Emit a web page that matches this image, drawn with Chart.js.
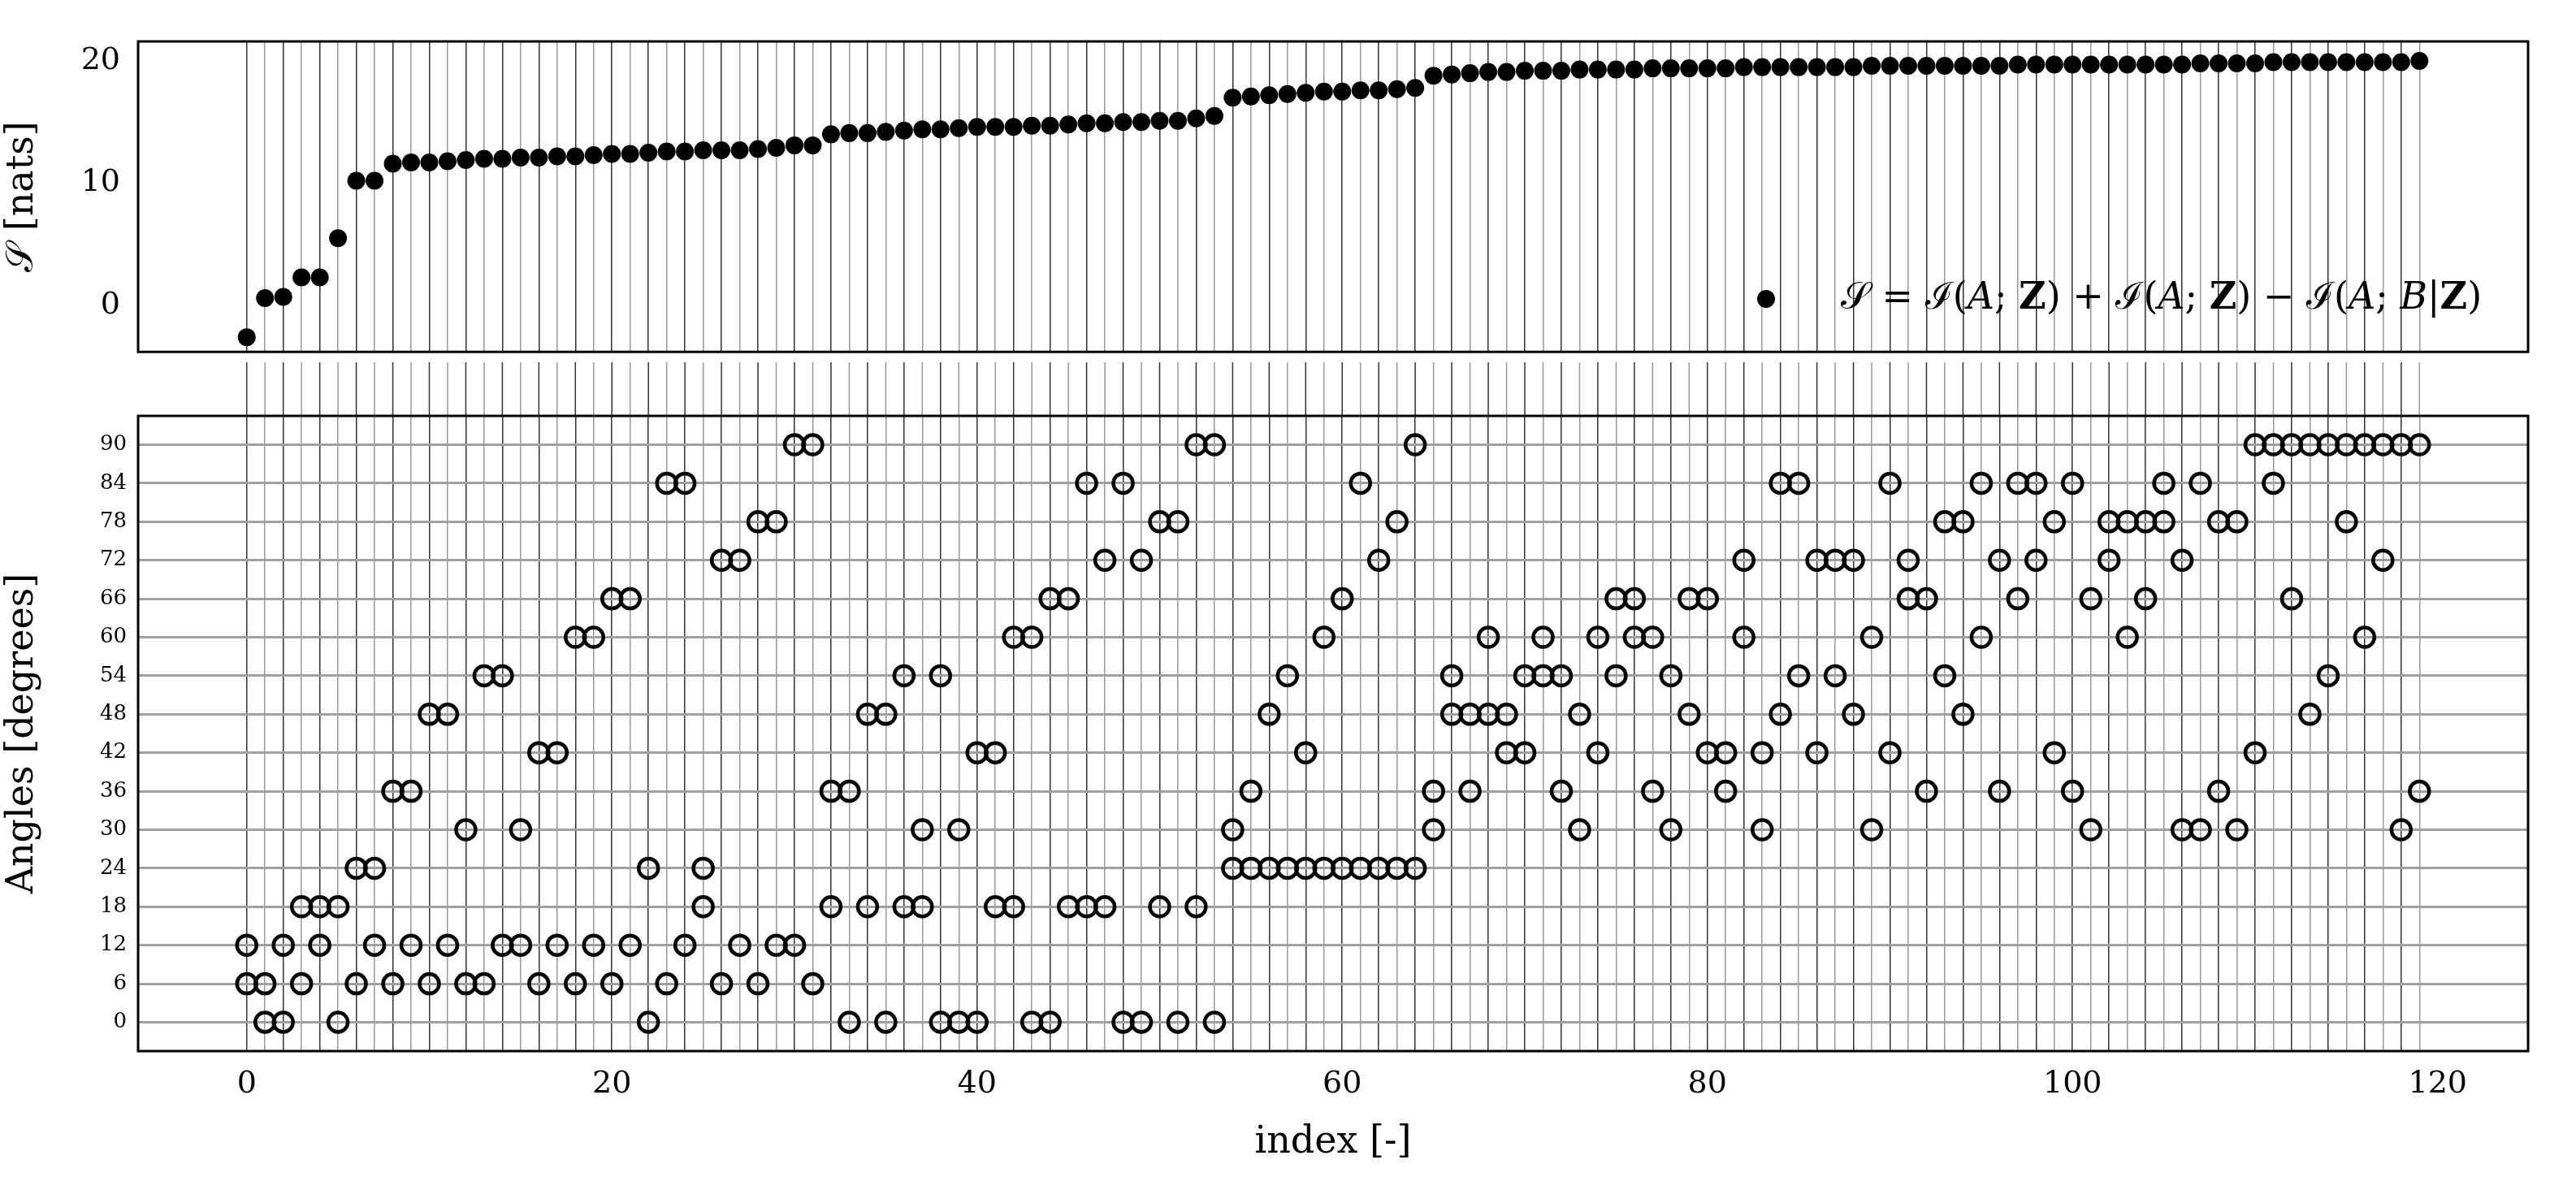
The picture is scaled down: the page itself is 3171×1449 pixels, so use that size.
<!DOCTYPE html>
<html>
<head>
<meta charset="utf-8">
<script src="https://cdn.jsdelivr.net/npm/chart.js@4.4.0/dist/chart.umd.min.js"></script>
<style>
  html, body { margin: 0; padding: 0; background: #fff; }
  #wrap { position: relative; width: 3171px; height: 1449px; }
  canvas { position: absolute; left: 0; }
  #topChart { top: 0; }
  #bottomChart { top: 446px; }
</style>
</head>
<body>
<div id="wrap">
  <canvas id="topChart" width="3171" height="470"></canvas>
  <canvas id="bottomChart" width="3171" height="1003"></canvas>
</div>
<script>
// values
const sValues = [
  -2.6, 0.6, 0.7, 2.3, 2.3, 5.5, 10.2, 10.2, 11.6, 11.7,
  11.7, 11.8, 11.9, 12.0, 12.0, 12.1, 12.1, 12.2, 12.2, 12.3,
  12.4, 12.4, 12.5, 12.6, 12.6, 12.7, 12.7, 12.7, 12.8, 12.9,
  13.1, 13.1, 14.0, 14.1, 14.1, 14.2, 14.3, 14.4, 14.4, 14.5,
  14.6, 14.6, 14.6, 14.7, 14.7, 14.8, 14.9, 14.9, 15.0, 15.0,
  15.1, 15.1, 15.3, 15.5, 17.0, 17.1, 17.2, 17.3, 17.4, 17.5,
  17.5, 17.6, 17.6, 17.7, 17.8, 18.8, 18.9, 19.0, 19.1, 19.1,
  19.2, 19.2, 19.2, 19.3, 19.3, 19.3, 19.3, 19.4, 19.4, 19.4,
  19.4, 19.4, 19.5, 19.5, 19.5, 19.5, 19.5, 19.5, 19.5, 19.6,
  19.6, 19.6, 19.6, 19.6, 19.6, 19.6, 19.6, 19.7, 19.7, 19.7,
  19.7, 19.7, 19.7, 19.7, 19.7, 19.7, 19.7, 19.8, 19.8, 19.8,
  19.8, 19.9, 19.9, 19.9, 19.9, 19.9, 19.9, 19.9, 19.9, 20.0
];

const angleA = [
  12, 6, 12, 18, 18, 18, 24, 24, 36, 36, 48, 48, 30, 54, 54, 30, 42, 42, 60, 60,
  66, 66, 24, 84, 84, 24, 72, 72, 78, 78, 90, 90, 36, 36, 48, 48, 54, 30, 54, 30,
  42, 42, 60, 60, 66, 66, 84, 72, 84, 72, 78, 78, 90, 90, 30, 36, 48, 54, 42, 60,
  66, 84, 72, 78, 90, 36, 54, 48, 60, 48, 54, 60, 54, 48, 60, 66, 66, 60, 54, 66,
  66, 42, 72, 42, 84, 84, 72, 72, 72, 60, 84, 72, 66, 78, 78, 84, 72, 84, 84, 78,
  84, 66, 78, 78, 78, 84, 72, 84, 78, 78, 90, 90, 90, 90, 90, 90, 90, 90, 90, 90
];

const angleB = [
  6, 0, 0, 6, 12, 0, 6, 12, 6, 12, 6, 12, 6, 6, 12, 12, 6, 12, 6, 12,
  6, 12, 0, 6, 12, 18, 6, 12, 6, 12, 12, 6, 18, 0, 18, 0, 18, 18, 0, 0,
  0, 18, 18, 0, 0, 18, 18, 18, 0, 0, 18, 0, 18, 0, 24, 24, 24, 24, 24, 24,
  24, 24, 24, 24, 24, 30, 48, 36, 48, 42, 42, 54, 36, 30, 42, 54, 60, 36, 30, 48,
  42, 36, 60, 30, 48, 54, 42, 54, 48, 30, 42, 66, 36, 54, 48, 60, 36, 66, 72, 42,
  36, 30, 72, 60, 66, 78, 30, 30, 36, 30, 42, 84, 66, 48, 54, 78, 60, 72, 30, 36
];

const xTicks = [0, 20, 40, 60, 80, 100, 120];
const sTicks = [0, 10, 20];
const angleTicks = [0, 6, 12, 18, 24, 30, 36, 42, 48, 54, 60, 66, 72, 78, 84, 90];

const idx = sValues.map((_, i) => i);
const toPts = arr => arr.map((v, i) => ({ x: idx[i], y: v }));

const SERIF = "'DejaVu Serif', 'Liberation Serif', serif";
const LEFT = 170, RIGHT_PAD = 59;

function vGridColor(ctx) {
  const v = ctx.tick && ctx.tick.value;
  if (v > 119) return "rgba(0,0,0,0)";
  return v % 2 === 0 ? "#333" : "#999";
}

const allIdxTicks = scale => {
  scale.ticks = [];
  for (let i = 0; i <= 120; i++) scale.ticks.push({ value: i });
};

const frame = {
  id: "frame",
  afterDraw(chart) {
    const { ctx, chartArea: a } = chart;
    ctx.save();
    ctx.strokeStyle = "#000";
    ctx.lineWidth = 3;
    ctx.strokeRect(a.left, a.top, a.right - a.left, a.bottom - a.top);
    ctx.restore();
  }
};

// legend of the top panel
const sLegend = {
  id: "sLegend",
  afterDraw(chart) {
    const { ctx } = chart;
    const y = 368;
    ctx.save();
    ctx.fillStyle = "#000";
    ctx.beginPath();
    ctx.arc(2174, y, 11, 0, Math.PI * 2);
    ctx.fill();
    const parts = [
      ["𝒮 = ℐ(", ""], ["A", "italic "], ["; ", ""], ["Z", "bold "], [") + ℐ(", ""],
      ["A", "italic "], ["; ", ""], ["Z", "bold "], [") − ℐ(", ""], ["A", "italic "],
      ["; ", ""], ["B", "italic "], ["|", ""], ["Z", "bold "], [")", ""]
    ];
    ctx.textBaseline = "middle";
    let x = 2266;
    parts.forEach(([t, st]) => {
      ctx.font = st + "46px " + SERIF;
      ctx.fillText(t, x, y);
      x += ctx.measureText(t).width;
    });
    ctx.restore();
  }
};

// vertical lines bridging the gap between the panels
const gapLines = {
  id: "gapLines",
  beforeDatasetsDraw(chart) {
    const { ctx, chartArea: a, scales } = chart;
    ctx.save();
    ctx.lineWidth = 1.5;
    for (let i = 0; i <= 119; i++) {
      const px = scales.x.getPixelForValue(i);
      ctx.strokeStyle = i % 2 === 0 ? "#333" : "#999";
      ctx.beginPath();
      ctx.moveTo(px, 0);
      ctx.lineTo(px, a.top);
      ctx.stroke();
    }
    ctx.restore();
  }
};

Chart.defaults.font.family = SERIF;
Chart.defaults.color = "#000";

new Chart(document.getElementById("topChart"), {
  type: "scatter",
  data: {
    datasets: [{
      data: toPts(sValues),
      pointRadius: 11,
      pointBackgroundColor: "#000",
      pointBorderColor: "#000",
      pointBorderWidth: 0
    }]
  },
  options: {
    responsive: false,
    animation: false,
    layout: { padding: { top: 51, right: RIGHT_PAD, bottom: 14, left: 0 } },
    plugins: { legend: { display: false }, tooltip: { enabled: false } },
    scales: {
      x: {
        type: "linear", min: -5.95, max: 124.95,
        afterBuildTicks: allIdxTicks,
        afterFit: s => { s.height = 0; },
        ticks: { display: false },
        grid: { color: vGridColor, lineWidth: 1.5, drawTicks: false },
        border: { display: false }
      },
      y: {
        min: -3.8, max: 21.6,
        afterBuildTicks: s => { s.ticks = sTicks.map(v => ({ value: v })); },
        afterFit: s => { s.width = LEFT; },
        ticks: { font: { size: 38 }, padding: 14 },
        grid: { display: false, drawTicks: true },
        border: { display: false },
        title: { display: true, text: "𝒮 [nats]", font: { size: 46 }, padding: 0 }
      }
    }
  },
  plugins: [frame, sLegend]
});

new Chart(document.getElementById("bottomChart"), {
  type: "scatter",
  data: {
    datasets: [angleA, angleB].map(arr => ({
      data: toPts(arr),
      pointRadius: 12,
      pointBackgroundColor: "rgba(0,0,0,0)",
      pointBorderColor: "#000",
      pointBorderWidth: 4.5
    }))
  },
  options: {
    responsive: false,
    animation: false,
    layout: { padding: { top: 66, right: RIGHT_PAD, bottom: 0, left: 0 } },
    plugins: { legend: { display: false }, tooltip: { enabled: false } },
    scales: {
      x: {
        type: "linear", min: -5.95, max: 124.95,
        afterBuildTicks: allIdxTicks,
        afterFit: s => { s.height = 155; },
        ticks: {
          autoSkip: false, maxRotation: 0, font: { size: 38 }, padding: 18,
          callback: v => (xTicks.includes(v) ? v : "")
        },
        grid: { color: vGridColor, lineWidth: 1.5, drawTicks: false },
        border: { display: false },
        title: { display: true, text: "index [-]", font: { size: 46 }, padding: { top: 10, bottom: 14 } }
      },
      y: {
        min: -4.5, max: 94.5,
        afterBuildTicks: s => { s.ticks = angleTicks.map(v => ({ value: v })); },
        afterFit: s => { s.width = LEFT; },
        ticks: { font: { size: 26 }, padding: 14 },
        grid: { color: "#a0a0a0", lineWidth: 3, drawTicks: false },
        border: { display: false },
        title: { display: true, text: "Angles [degrees]", font: { size: 46 }, padding: 0 }
      }
    }
  },
  plugins: [frame, gapLines]
});
</script>
</body>
</html>
